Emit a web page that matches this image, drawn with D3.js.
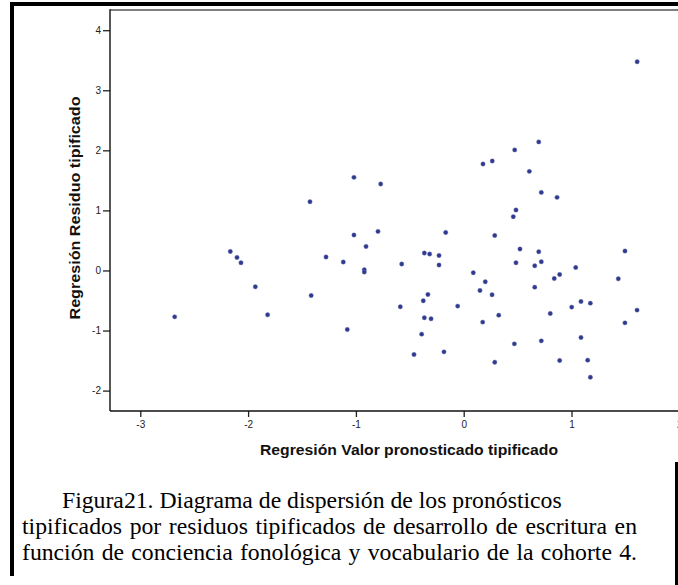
<!DOCTYPE html>
<html>
<head>
<meta charset="utf-8">
<script src="https://cdn.jsdelivr.net/npm/d3@7/dist/d3.min.js"></script>
<style>
  html, body { margin: 0; padding: 0; background: #fff; }
  svg { display: block; }
</style>
</head>
<body>
<script>
// Predicted (standardized) values, x
const predicted = [
  1.609, 0.696, 0.473, 0.179, 0.265, 0.609, -1.018, -0.770, 0.720, 0.866, 0.485, 0.460,
  -1.018, -0.795, -0.167, 0.288, -0.906, -1.117, -0.922, -0.922, -0.575, -0.365, -0.316, -0.229,
  -0.229, 0.522, 0.696, 0.485, 0.659, 0.720, 1.039, 1.496, 1.434, 0.840, 0.890, 0.089,
  0.200, 0.151, 0.263, 0.659, -0.332, -0.375, -0.588, -0.056, -0.365, -0.303, -1.080, 0.325,
  0.176, 0.803, 1.002, 1.088, 1.175, 1.608, 1.496, -0.390, 1.088, 0.470, 0.720, -0.461,
  -0.183, 0.288, 0.890, 1.150, 1.175,
  -1.426, -2.165, -2.103, -2.066, -1.933, -1.415, -2.681, -1.819, -1.277
];
// Standardized residuals, y
const residual = [
  3.475, 2.140, 2.007, 1.773, 1.823, 1.650, 1.550, 1.440, 1.300, 1.217, 1.007, 0.895,
  0.590, 0.650, 0.633, 0.583, 0.400, 0.140, 0.012, -0.027, 0.107, 0.290, 0.273, 0.250,
  0.090, 0.357, 0.312, 0.128, 0.078, 0.145, 0.050, 0.323, -0.138, -0.133, -0.067, -0.038,
  -0.188, -0.333, -0.405, -0.278, -0.400, -0.505, -0.605, -0.593, -0.788, -0.805, -0.983, -0.744,
  -0.860, -0.716, -0.610, -0.517, -0.544, -0.660, -0.872, -1.060, -1.117, -1.222, -1.172, -1.400,
  -1.355, -1.527, -1.500, -1.493, -1.777,
  1.145, 0.317, 0.217, 0.128, -0.272, -0.417, -0.772, -0.738, 0.223
];
const xTicks = [-3, -2, -1, 0, 1, 2];
const yTicks = [-2, -1, 0, 1, 2, 3, 4];
const xTitle = "Regresión Valor pronosticado tipificado";
const yTitle = "Regresión Residuo tipificado";
const captionLines = [
  "Figura21. Diagrama de dispersión de los pronósticos",
  "tipificados por residuos tipificados de desarrollo de escritura en",
  "función de conciencia fonológica y vocabulario de la cohorte 4."
];

const W = 678, H = 585;
const svg = d3.select("body").append("svg").attr("width", W).attr("height", H);
svg.append("rect").attr("width", W).attr("height", H).attr("fill", "#fff");

const plotLeft = 110, plotTop = 10, plotBottom = 411;
const x = d3.scaleLinear().domain([-3, 2]).range([140.3, 679.3]);
const y = d3.scaleLinear().domain([-2, 4]).range([390.6, 30.2]);

// page frame (black bars)
svg.append("rect").attr("x", 10).attr("y", 2).attr("width", W - 10).attr("height", 4).attr("fill", "#000");
svg.append("rect").attr("x", 10).attr("y", 2).attr("width", 4).attr("height", 574).attr("fill", "#000");
svg.append("rect").attr("x", 675).attr("y", 462).attr("width", 3).attr("height", H - 462).attr("fill", "#000");

// plot frame top
svg.append("line").attr("x1", plotLeft).attr("x2", W).attr("y1", plotTop).attr("y2", plotTop)
  .attr("stroke", "#555").attr("stroke-width", 1.6);

const fontSans = "'Liberation Sans', Arial, sans-serif";

// Y axis
const yAxis = d3.axisLeft(y).tickValues(yTicks).tickSize(7).tickPadding(2).tickFormat(d => String(d));
const gy = svg.append("g").attr("transform", `translate(${plotLeft},0)`).call(yAxis);
gy.select(".domain").remove();
gy.selectAll(".tick line").attr("stroke", "#222").attr("stroke-width", 1.3);
gy.selectAll(".tick text").attr("font-family", fontSans).attr("font-size", 10).attr("fill", "#222");
svg.append("line").attr("x1", plotLeft).attr("x2", plotLeft).attr("y1", plotTop - 0.8).attr("y2", plotBottom)
  .attr("stroke", "#111").attr("stroke-width", 1.4);

// X axis
const xAxis = d3.axisBottom(x).tickValues(xTicks).tickSize(6).tickPadding(4).tickFormat(d => String(d));
const gx = svg.append("g").attr("transform", `translate(0,${plotBottom})`).call(xAxis);
gx.select(".domain").remove();
gx.selectAll(".tick line").attr("stroke", "#222").attr("stroke-width", 1.3);
gx.selectAll(".tick text").attr("font-family", fontSans).attr("font-size", 10).attr("fill", "#222");
svg.append("line").attr("x1", plotLeft).attr("x2", W).attr("y1", plotBottom).attr("y2", plotBottom)
  .attr("stroke", "#111").attr("stroke-width", 1.4);

// points
const pts = predicted.map((v, i) => ({ x: v, y: residual[i] }));
svg.append("g").selectAll("circle").data(pts).join("circle")
  .attr("cx", d => x(d.x)).attr("cy", d => y(d.y)).attr("r", 2.2)
  .attr("fill", "#2f3a8f").attr("stroke", "#6f76b0").attr("stroke-width", 0.4);

// axis titles
svg.append("text").attr("x", 409).attr("y", 455).attr("text-anchor", "middle")
  .attr("font-family", fontSans).attr("font-weight", "bold").attr("font-size", 14).attr("fill", "#111")
  .attr("textLength", 298).attr("lengthAdjust", "spacingAndGlyphs")
  .text(xTitle);
svg.append("text").attr("transform", "translate(80,208) rotate(-90)").attr("text-anchor", "middle")
  .attr("font-family", fontSans).attr("font-weight", "bold").attr("font-size", 14).attr("fill", "#111")
  .attr("textLength", 223).attr("lengthAdjust", "spacingAndGlyphs")
  .text(yTitle);

// caption
const fontSerif = "'Liberation Serif', 'Times New Roman', serif";
const capX = [62, 22, 22];
const capY = [508, 534, 560];
const capEnd = [562, 637, 637];
// size the font so that the first (unjustified) line has its natural width
const probe = svg.append("text").attr("font-family", fontSerif).attr("font-size", 20).text(captionLines[0]);
const probeW = probe.node().getComputedTextLength();
probe.remove();
const capSize = 20 * (capEnd[0] - capX[0]) / probeW;
captionLines.forEach((line, i) => {
  const t = svg.append("text").attr("x", capX[i]).attr("y", capY[i])
    .attr("font-family", fontSerif).attr("font-size", capSize).attr("fill", "#000").text(line);
  if (i > 0) {
    const natural = t.node().getComputedTextLength();
    const spaces = (line.match(/ /g) || []).length;
    const extra = (capEnd[i] - capX[i] - natural) / spaces;
    t.attr("word-spacing", extra);
  }
});
</script>
</body>
</html>
